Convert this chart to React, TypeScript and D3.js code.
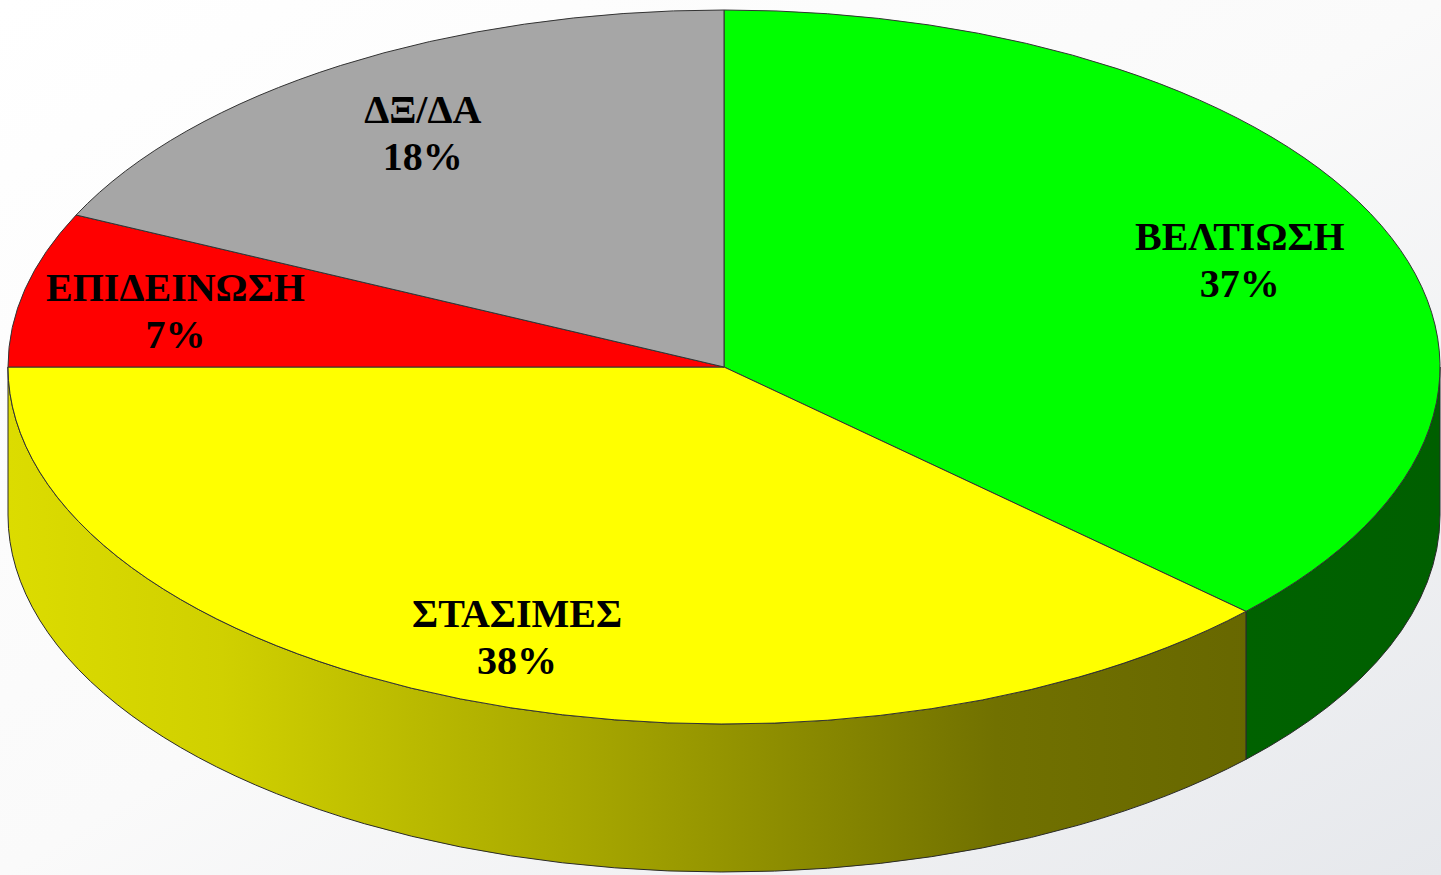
import { useMemo } from "react";
import * as d3 from "d3";

const categories = ["ΒΕΛΤΙΩΣΗ", "ΣΤΑΣΙΜΕΣ", "ΕΠΙΔΕΙΝΩΣΗ", "ΔΞ/ΔΑ"];
const values = [37, 38, 7, 18];
const topColors = ["#00ff00", "#ffff00", "#ff0000", "#a6a6a6"];
const sideColors = ["url(#greenSide)", "url(#yellowSide)", "#b00000", "#707070"];

const W = 1441;
const H = 875;
const cx = 724;
const cy = 367;
const rx = 716;
const ry = 357;
const depth = 148;
const labelKx = 0.785;
const labelKy = 0.796;

// angle measured from 12 o'clock, clockwise
const px = (a: number) => cx + rx * Math.sin(a);
const py = (a: number) => cy - ry * Math.cos(a);

const topPath = (a0: number, a1: number) => {
  const large = a1 - a0 > Math.PI ? 1 : 0;
  return `M${cx},${cy}L${px(a0)},${py(a0)}A${rx},${ry} 0 ${large} 1 ${px(a1)},${py(a1)}Z`;
};

const sidePath = (a0: number, a1: number) => {
  const s = Math.max(a0, Math.PI / 2);
  const e = Math.min(a1, (3 * Math.PI) / 2);
  if (e <= s) return null;
  return (
    `M${px(s)},${py(s)}A${rx},${ry} 0 0 1 ${px(e)},${py(e)}` +
    `L${px(e)},${py(e) + depth}A${rx},${ry} 0 0 0 ${px(s)},${py(s) + depth}Z`
  );
};

const App = () => {
  const arcs = useMemo(
    () =>
      d3
        .pie<number>()
        .sort(null)
        .value((d) => d)(values),
    []
  );

  return (
    <svg
      width={W}
      height={H}
      style={{ position: "absolute", left: 0, top: 0 }}
    >
      <defs>
        <linearGradient id="bg" x1="0" y1="0" x2="1" y2="1">
          <stop offset="0%" stopColor="#ffffff" />
          <stop offset="50%" stopColor="#fafafa" />
          <stop offset="100%" stopColor="#e6e8ec" />
        </linearGradient>
        <linearGradient
          id="yellowSide"
          gradientUnits="userSpaceOnUse"
          x1={cx - rx}
          x2={cx + rx}
          y1={0}
          y2={0}
        >
          <stop offset="0" stopColor="#dcdc00" />
          <stop offset="0.15" stopColor="#d0d000" />
          <stop offset="0.41" stopColor="#a5a500" />
          <stop offset="0.69" stopColor="#717100" />
          <stop offset="1" stopColor="#606000" />
        </linearGradient>
        <linearGradient
          id="greenSide"
          gradientUnits="userSpaceOnUse"
          x1={cx}
          x2={cx + rx}
          y1={0}
          y2={0}
        >
          <stop offset="0" stopColor="#006a00" />
          <stop offset="1" stopColor="#005f00" />
        </linearGradient>
      </defs>
      <rect width={W} height={H} fill="url(#bg)" />

      <g>
        {arcs.map((a, i) => {
          const d = sidePath(a.startAngle, a.endAngle);
          return d ? (
            <path
              key={"s" + i}
              d={d}
              fill={sideColors[i]}
              stroke="#2a2a2a"
              strokeWidth={1}
            />
          ) : null;
        })}
      </g>
      <g>
        {arcs.map((a, i) => (
          <path
            key={"t" + i}
            d={topPath(a.startAngle, a.endAngle)}
            fill={topColors[i]}
            stroke="#333333"
            strokeWidth={1}
          />
        ))}
      </g>
      <g
        fontFamily="'Liberation Serif', 'Times New Roman', serif"
        fontWeight="bold"
        fontSize={40}
        textAnchor="middle"
        fill="#000"
      >
        {arcs.map((a, i) => {
          const m = (a.startAngle + a.endAngle) / 2;
          const x = cx + rx * labelKx * Math.sin(m);
          const y = cy - ry * labelKy * Math.cos(m);
          return (
            <text key={"l" + i} x={x} y={y}>
              <tspan x={x} dy={-4}>
                {categories[i]}
              </tspan>
              <tspan x={x} dy={47}>
                {values[i]}%
              </tspan>
            </text>
          );
        })}
      </g>
    </svg>
  );
};

export default App;
